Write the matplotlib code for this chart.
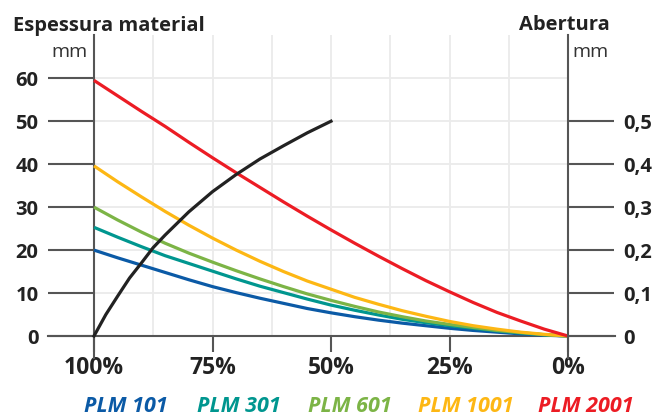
import matplotlib
matplotlib.use("Agg")
import matplotlib.pyplot as plt
from matplotlib.ticker import FuncFormatter

# ---- data ----
opening_pct = [100, 95, 90, 85, 80, 75, 70, 65, 60, 55, 50,
               45, 40, 35, 30, 25, 20, 15, 10, 5, 0]
plm101 = [20.0, 18.2, 16.5, 14.8, 13.1, 11.5, 10.1, 8.8, 7.6, 6.4, 5.4,
          4.5, 3.7, 3.0, 2.4, 1.8, 1.3, 0.9, 0.5, 0.2, 0]
plm301 = [25.3, 23.0, 20.8, 18.7, 16.9, 15.1, 13.3, 11.6, 10.1, 8.6, 7.2,
          6.0, 4.9, 3.9, 3.1, 2.4, 1.8, 1.2, 0.7, 0.3, 0]
plm601 = [30.0, 27.0, 24.2, 21.6, 19.3, 17.2, 15.2, 13.3, 11.5, 9.8, 8.3,
          6.9, 5.6, 4.5, 3.5, 2.7, 2.0, 1.3, 0.8, 0.3, 0]
plm1001 = [39.6, 35.9, 32.4, 29.0, 25.8, 22.8, 20.0, 17.4, 15.0, 12.8, 10.9,
           9.0, 7.4, 5.9, 4.6, 3.4, 2.4, 1.6, 0.9, 0.4, 0]
plm2001 = [59.5, 55.9, 52.3, 48.8, 45.1, 41.5, 38.0, 34.6, 31.2, 27.9, 24.7,
           21.6, 18.6, 15.7, 12.9, 10.3, 7.8, 5.5, 3.5, 1.6, 0]
series_names = ["PLM 101", "PLM 301", "PLM 601", "PLM 1001", "PLM 2001"]
series_values = [plm101, plm301, plm601, plm1001, plm2001]
series_colors = ["#0b5aa6", "#00968f", "#7cb446", "#fdb714", "#ec1c24"]

aperture_pct = [100, 97.5, 95, 92.5, 90, 87.5, 85, 80, 75, 70, 65, 60, 55, 50]
aperture_mm = [0, 0.050, 0.093, 0.135, 0.170, 0.206, 0.235, 0.289, 0.336,
               0.376, 0.412, 0.443, 0.473, 0.50]

left_ticks = [0, 10, 20, 30, 40, 50, 60]
right_ticks = [0, 0.1, 0.2, 0.3, 0.4, 0.5]
x_ticks = [100, 75, 50, 25, 0]
x_ticklabels = ["100%", "75%", "50%", "25%", "0%"]
x_grid = [87.5, 75, 62.5, 50, 37.5, 25, 12.5]

FONT = "Open Sans"
AX_COLOR = "#555555"
GRID_COLOR = "#ebebeb"
TEXT_COLOR = "#222222"
FS = 14.5

plt.rcParams["font.family"] = [FONT, "DejaVu Sans"]

fig = plt.figure(figsize=(6.59, 4.18), dpi=100)
W, H = 659, 418
left_px, right_px, top_px, bottom_px = 94, 568, 35.3, 357.5
ax = fig.add_axes([left_px / W, 1 - bottom_px / H,
                   (right_px - left_px) / W, (bottom_px - top_px) / H])
ax.set_xlim(100, 0)
ax.set_ylim(-5, 70)
ax.patch.set_visible(False)

# grid
for y in left_ticks[1:]:
    ax.plot([100, 0], [y, y], color=GRID_COLOR, lw=1.3, zorder=0.5)
ax.vlines(x_grid, 0, 70, color=GRID_COLOR, lw=1.3, zorder=0.5)

# spines
for s in ["top", "right"]:
    ax.spines[s].set_visible(False)
ax.spines["left"].set_color(AX_COLOR)
ax.spines["left"].set_linewidth(1.5)
ax.spines["bottom"].set_position(("data", 0))
ax.spines["bottom"].set_visible(False)
ax.plot([109.7, -9.9], [0, 0], color=AX_COLOR, lw=1.5, clip_on=False, zorder=1)

# left ticks
ax.set_yticks(left_ticks)
ax.set_yticklabels([str(v) for v in left_ticks])
ax.tick_params(axis="y", direction="out", length=33, width=1.5, color=AX_COLOR,
               pad=7, labelsize=FS, labelcolor=TEXT_COLOR)
for lab in ax.get_yticklabels():
    lab.set_fontweight("bold")

# x ticks
ax.set_xticks(x_ticks)
ax.set_xticklabels(x_ticklabels)
ax.tick_params(axis="x", direction="out", length=11.5, width=1.5, color=AX_COLOR,
               pad=3, labelsize=16.5, labelcolor=TEXT_COLOR)
for lab in ax.get_xticklabels():
    lab.set_fontweight("bold")

# series
for name, vals, col in zip(series_names, series_values, series_colors):
    ax.plot(opening_pct, vals, color=col, lw=2.3, solid_capstyle="butt",
            solid_joinstyle="round", zorder=3, clip_on=False)

# right axis
ax2 = ax.twinx()
ax2.set_ylim(-0.05, 0.7)
ax2.set_xlim(100, 0)
for s in ["top", "left", "bottom"]:
    ax2.spines[s].set_visible(False)
ax2.spines["right"].set_color(AX_COLOR)
ax2.spines["right"].set_linewidth(1.5)
ax2.set_yticks(right_ticks)
ax2.yaxis.set_major_formatter(FuncFormatter(
    lambda v, p: "0" if abs(v) < 1e-9 else f"{v:.1f}".replace(".", ",")))
ax2.tick_params(axis="y", direction="out", length=33, width=1.5, color=AX_COLOR,
                pad=7, labelsize=FS, labelcolor=TEXT_COLOR)
for lab in ax2.get_yticklabels():
    lab.set_fontweight("bold")
ax2.plot(aperture_pct, aperture_mm, color="#222222", lw=2.3, zorder=4,
         solid_joinstyle="round", clip_on=False)

# titles
fig.text(13 / W, 1 - 30.5 / H, "Espessura material", fontsize=FS, fontweight="bold",
         color=TEXT_COLOR, ha="left", va="baseline")
fig.text(610 / W, 1 - 30.5 / H, "Abertura", fontsize=FS, fontweight="bold",
         color=TEXT_COLOR, ha="right", va="baseline")
fig.text(88 / W, 1 - 57 / H, "mm", fontsize=14, color="#333333",
         ha="right", va="baseline")
fig.text(572 / W, 1 - 57 / H, "mm", fontsize=14, color="#333333",
         ha="left", va="baseline")

# legend
legend_x = [84, 197, 308, 418, 538]
for name, col, lx in zip(series_names, series_colors, legend_x):
    fig.text(lx / W, 1 - 417.5 / H, name, fontsize=15.5, fontweight="bold",
             fontstyle="italic", color=col, ha="left", va="bottom")

fig.savefig("out.png", dpi=100)
